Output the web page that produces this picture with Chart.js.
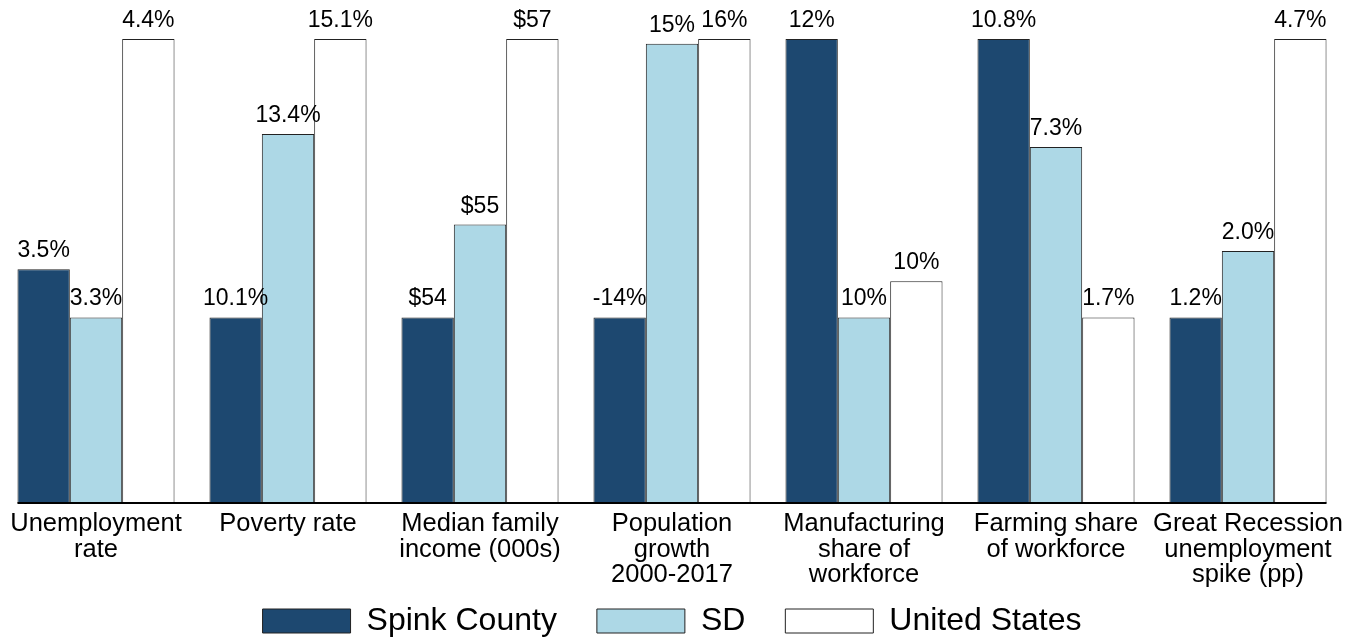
<!DOCTYPE html>
<html>
<head>
<meta charset="utf-8">
<script src="https://cdn.jsdelivr.net/npm/chart.js@4"></script>
<style>
  html, body { margin: 0; padding: 0; background: #fff; }
  #wrap { width: 1361px; height: 640px; }
</style>
</head>
<body>
<div id="wrap"><canvas id="myChart"></canvas></div>
<script>
let categories = [
    ["Unemployment", "rate"],
    ["Poverty rate"],
    ["Median family", "income (000s)"],
    ["Population", "growth", "2000-2017"],
    ["Manufacturing", "share of", "workforce"],
    ["Farming share", "of workforce"],
    ["Great Recession", "unemployment", "spike (pp)"]
];

// bar heights as drawn in each group (tallest bar of a group = 100)
let spinkHeights = [50.4, 40, 40, 40, 100, 100, 40];
let sdHeights = [40, 79.5, 60, 99, 40, 76.7, 54.3];
let usHeights = [100, 100, 100, 100, 47.8, 40, 100];

// printed values
let spinkLabels = ["3.5%", "10.1%", "$54", "-14%", "12%", "10.8%", "1.2%"];
let sdLabels = ["3.3%", "13.4%", "$55", "15%", "10%", "7.3%", "2.0%"];
let usLabels = ["4.4%", "15.1%", "$57", "16%", "10%", "1.7%", "4.7%"];

let seriesNames = ["Spink County", "SD", "United States"];
let valueLabels = [spinkLabels, sdLabels, usLabels];

const FONT = "'Liberation Sans', Arial, sans-serif";

let valueLabelPlugin = {
    id: "valueLabels",
    afterDatasetsDraw(chart) {
        let ctx = chart.ctx;
        ctx.save();
        ctx.font = "23px " + FONT;
        ctx.fillStyle = "#000";
        ctx.textAlign = "center";
        ctx.textBaseline = "alphabetic";
        for (let i = 0; i < chart.data.datasets.length; i++) {
            let meta = chart.getDatasetMeta(i);
            meta.data.forEach(function (bar, j) {
                ctx.fillText(valueLabels[i][j], bar.x, bar.y - 12);
            });
        }

        // base line under the bars
        let first = chart.getDatasetMeta(0).data[0];
        let lastMeta = chart.getDatasetMeta(chart.data.datasets.length - 1);
        let last = lastMeta.data[lastMeta.data.length - 1];
        let y = chart.scales.y.getPixelForValue(0);
        ctx.strokeStyle = "#000";
        ctx.lineWidth = 2;
        ctx.beginPath();
        ctx.moveTo(first.x - first.width / 2, y);
        ctx.lineTo(last.x + last.width / 2, y);
        ctx.stroke();
        ctx.restore();
    }
};

// category names under the groups, drawn without the axis clip
let categoryLabelPlugin = {
    id: "categoryLabels",
    afterDraw(chart) {
        let ctx = chart.ctx;
        let xScale = chart.scales.x;
        let bottom = chart.chartArea.bottom;
        ctx.save();
        ctx.font = "25.5px " + FONT;
        ctx.fillStyle = "#000";
        ctx.textAlign = "center";
        ctx.textBaseline = "alphabetic";
        categories.forEach(function (lines, i) {
            let x = xScale.getPixelForValue(i);
            lines.forEach(function (line, k) {
                ctx.fillText(line, x, bottom + 28 + k * 25.7);
            });
        });
        ctx.restore();
    }
};

let data = {
    labels: categories,
    datasets: [
        {
            label: seriesNames[0],
            data: spinkHeights,
            backgroundColor: "#1d4870",
            borderColor: "#222",
            borderWidth: 1
        },
        {
            label: seriesNames[1],
            data: sdHeights,
            backgroundColor: "#add8e6",
            borderColor: "#222",
            borderWidth: 1
        },
        {
            label: seriesNames[2],
            data: usHeights,
            backgroundColor: "#ffffff",
            borderColor: "#222",
            borderWidth: 1
        }
    ]
};

let config = {
    type: "bar",
    data: data,
    options: {
        responsive: true,
        maintainAspectRatio: false,
        animation: false,
        layout: {
            padding: { top: 39, right: 17, left: 0, bottom: -7 }
        },
        datasets: {
            bar: { categoryPercentage: 0.818, barPercentage: 1 }
        },
        scales: {
            x: {
                grid: { display: false, drawTicks: false },
                border: { display: false },
                ticks: { display: false },
                // room for the category names, which run into the legend's top padding
                afterFit(scale) {
                    scale.height = 62;
                }
            },
            y: {
                display: false,
                min: 0,
                max: 100
            }
        },
        plugins: {
            legend: {
                position: "bottom",
                labels: {
                    color: "#000",
                    boxWidth: 88,
                    boxHeight: 24,
                    padding: 40,
                    font: { family: FONT, size: 32 }
                }
            },
            tooltip: { enabled: false }
        }
    },
    plugins: [valueLabelPlugin, categoryLabelPlugin]
};

let myChart = new Chart(document.getElementById("myChart"), config);
</script>
</body>
</html>
